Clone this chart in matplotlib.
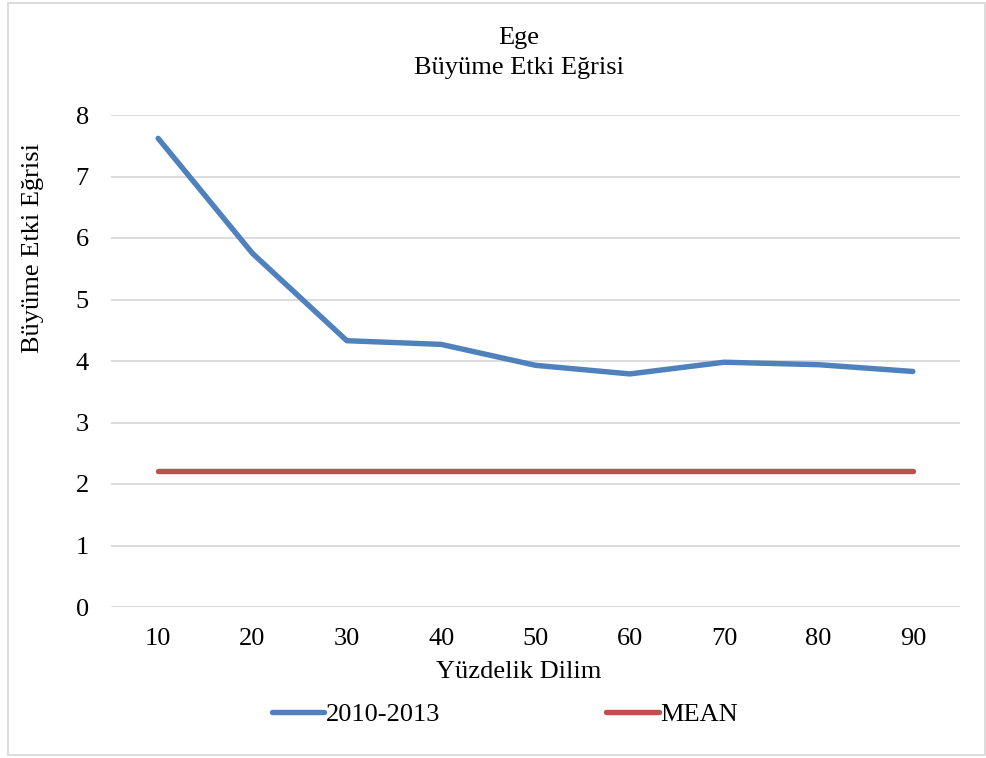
import matplotlib
matplotlib.use("Agg")
import matplotlib.pyplot as plt
from matplotlib.patches import Rectangle

plt.rcParams['font.family'] = ['Liberation Serif', 'DejaVu Serif']

categories = ["10", "20", "30", "40", "50", "60", "70", "80", "90"]
series_2010_2013 = [7.62, 5.75, 4.33, 4.27, 3.93, 3.79, 3.98, 3.94, 3.83]
mean_values = [2.21, 2.21, 2.21, 2.21, 2.21, 2.21, 2.21, 2.21, 2.21]
y_ticks = [0, 1, 2, 3, 4, 5, 6, 7, 8]

FS = 19

fig = plt.figure(figsize=(9.87, 7.58), dpi=100)
ax = fig.add_axes([111/987, 1-607/758, (960-111)/987, (607-115)/758])

x = list(range(len(categories)))
l1, = ax.plot(x, series_2010_2013, color='#4f81bd', lw=3.9, solid_capstyle='round',
              solid_joinstyle='round', label='2010-2013', zorder=3)
l2, = ax.plot(x, mean_values, color='#c0504d', lw=3.9, solid_capstyle='round',
              label='MEAN', zorder=3)

ax.set_xlim(-0.5, len(categories) - 0.5)
ax.set_ylim(0, 8)
ax.set_yticks(y_ticks)
ax.set_xticks(x)
ax.set_xticklabels(categories)
ax.tick_params(axis='both', length=0, labelsize=FS)
ax.tick_params(axis='y', pad=16)
ax.tick_params(axis='x', pad=15)
for s in ax.spines.values():
    s.set_visible(False)
ax.grid(axis='y', color='#d9d9d9', lw=1.3)
ax.set_axisbelow(True)

ax.set_xlabel('Yüzdelik Dilim', fontsize=FS)
ax.xaxis.set_label_coords((519-111)/(960-111), -(672-607)/(607-115), transform=ax.transAxes)
ax.xaxis.label.set_va('center')
ax.set_ylabel('Büyüme Etki Eğrisi', fontsize=FS)
ax.yaxis.set_label_coords(-(111-33)/(960-111), (607-248)/(607-115), transform=ax.transAxes)
ax.yaxis.label.set_va('center')

fig.text(519/987, 1-38/758, 'Ege', ha='center', va='center', fontsize=FS)
fig.text(519/987, 1-68/758, 'Büyüme Etki Eğrisi', ha='center', va='center', fontsize=FS)

leg = fig.legend(handles=[l1, l2], loc='center', bbox_to_anchor=(505/987, 1-714/758),
                 ncol=2, frameon=False, fontsize=FS, handlelength=2.0,
                 handletextpad=0.05, columnspacing=6.3, borderpad=0, borderaxespad=0)

fig.patches.append(Rectangle((8/987, 3/758), (985-8)/987, (755-3)/758,
                             transform=fig.transFigure, fill=False,
                             edgecolor='#d9d9d9', lw=1.3))

fig.savefig('out.png', dpi=100)
